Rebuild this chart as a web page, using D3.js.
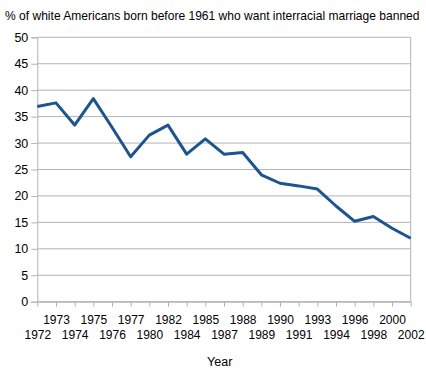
<!DOCTYPE html>
<html><head><meta charset="utf-8">
<script src="https://cdn.jsdelivr.net/npm/d3@7"></script>
<style>body{margin:0;background:#fff}svg{display:block}text{font-family:"Liberation Sans",Arial,sans-serif;fill:#000}</style>
</head><body>
<script>
const titleText = "% of white Americans born before 1961 who want interracial marriage banned";
const xTitle = "Year";
const years = ["1972","1973","1974","1975","1976","1977","1980","1982","1984","1985","1987","1988","1989","1990","1991","1993","1994","1996","1998","2000","2002"];
const values = [36.9,37.6,33.4,38.4,33.0,27.4,31.5,33.4,27.9,30.8,27.9,28.2,24.0,22.4,21.9,21.3,18.1,15.2,16.1,13.9,12.0];
const yTicks = [0,5,10,15,20,25,30,35,40,45,50];

const W = 426, H = 371;
const m = {left:37.3, right:426-410.7, top:37.3, bottom:371-301.7};
const svg = d3.select("body").append("svg").attr("width",W).attr("height",H);

const x = d3.scalePoint().domain(years).range([m.left, W-m.right]).padding(0);
const y = d3.scaleLinear().domain([0,50]).range([H-m.bottom, m.top]);

// gridlines
svg.append("g").selectAll("line").data(yTicks).join("line")
  .attr("x1", m.left).attr("x2", W-m.right)
  .attr("y1", d=>y(d)).attr("y2", d=>y(d))
  .attr("stroke","#b3b3b3").attr("stroke-width",1);
// right border
svg.append("line").attr("x1",W-m.right).attr("x2",W-m.right).attr("y1",y(50)).attr("y2",y(0)).attr("stroke","#b3b3b3");

// y axis
const ya = svg.append("g").attr("transform",`translate(${m.left},0)`)
  .call(d3.axisLeft(y).tickValues(yTicks).tickSize(6).tickPadding(3));
ya.select(".domain").attr("stroke","#b3b3b3");
ya.selectAll(".tick line").attr("stroke","#b3b3b3");
ya.selectAll(".tick text").style("font-size","12.5px").attr("fill","#000");

// x axis
const xa = svg.append("g").attr("transform",`translate(0,${y(0)})`)
  .call(d3.axisBottom(x).tickSize(5).tickSizeOuter(0));
xa.select(".domain").attr("stroke","#b3b3b3");
xa.selectAll(".tick line").attr("stroke","#b3b3b3");
xa.selectAll(".tick text").style("font-size","12px").attr("fill","#000")
  .attr("dy",null)
  .attr("y",(d,i)=> i%2===1 ? 22.3 : 37.8);

// line
svg.append("path").datum(values)
  .attr("fill","none").attr("stroke","#1b548e").attr("stroke-width",3)
  .attr("stroke-linejoin","round")
  .attr("d", d3.line().x((d,i)=>x(years[i])).y(d=>y(d)));

// title: fit font size to target width
const t = svg.append("text").attr("x",5).attr("y",20).style("font-size","12.5px").text(titleText);
const natural = t.node().getComputedTextLength();
const fs = Math.min(12.5, 12.5 * 415 / natural);
t.style("font-size", fs + "px");
svg.append("text").attr("x",219.7).attr("y",365.7).attr("text-anchor","middle").style("font-size","12.5px").text(xTitle);
</script>
</body></html>
